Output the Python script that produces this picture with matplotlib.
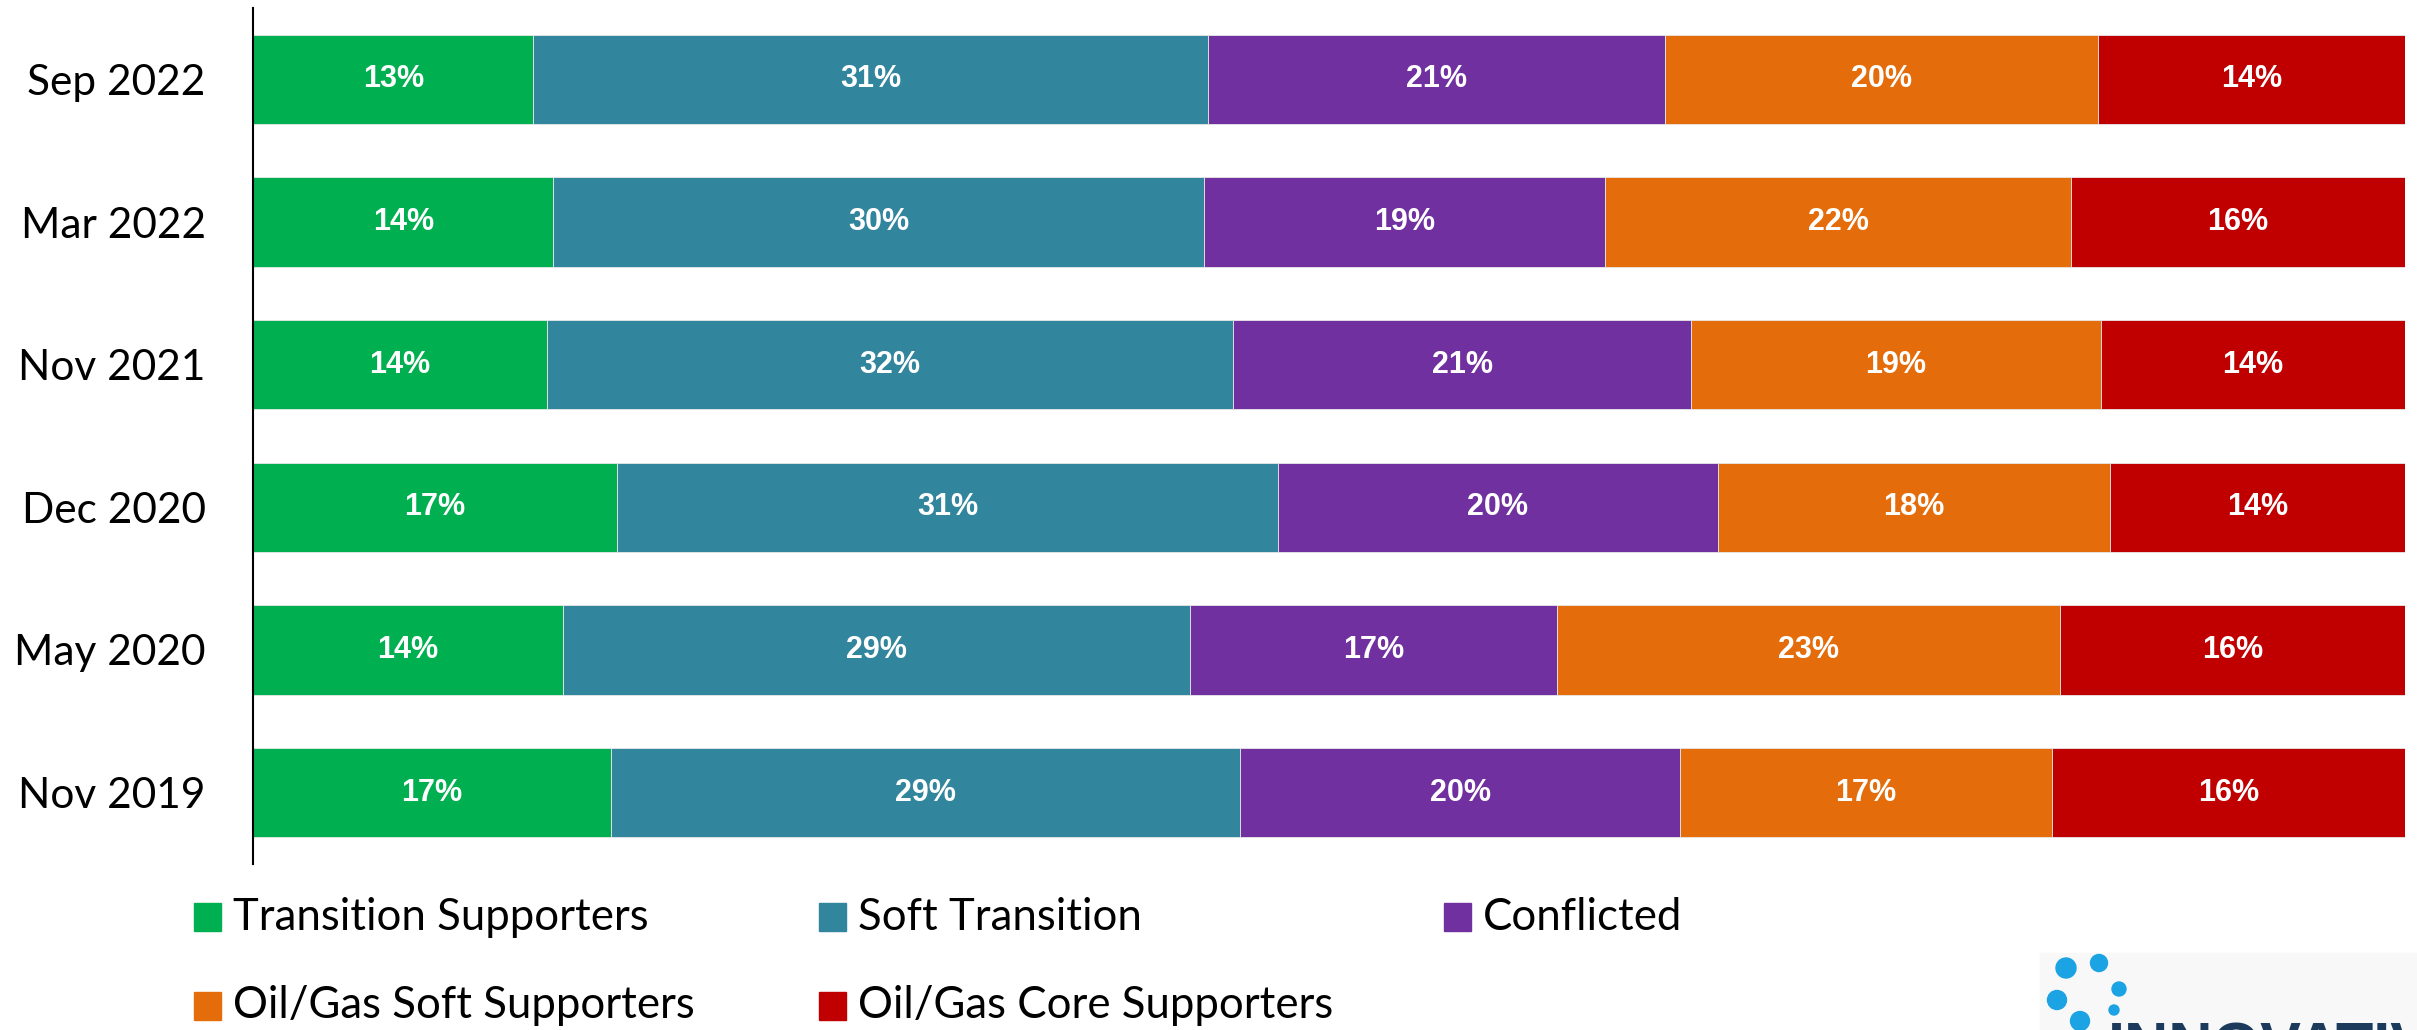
import numpy as np
import matplotlib.pyplot as plt
from matplotlib.patches import Rectangle, Ellipse

plt.rcParams['font.family'] = ['Lato', 'DejaVu Sans']

periods = ["Sep 2022", "Mar 2022", "Nov 2021", "Dec 2020", "May 2020", "Nov 2019"]
series = ["Transition Supporters", "Soft Transition", "Conflicted",
          "Oil/Gas Soft Supporters", "Oil/Gas Core Supporters"]
colors = ["#00B050", "#31859C", "#7030A0", "#E46C0A", "#C00000"]

# shares per period (percent)
transition = [13.03, 13.96, 13.67, 16.93, 14.42, 16.62]
soft_transition = [31.37, 30.23, 31.88, 30.70, 29.14, 29.26]
conflicted = [21.20, 18.64, 21.27, 20.44, 17.04, 20.43]
og_soft = [20.13, 21.64, 19.06, 18.23, 23.38, 17.29]
og_core = [14.27, 15.53, 14.12, 13.69, 16.02, 16.40]

data = np.array([transition, soft_transition, conflicted, og_soft, og_core])

W, H = 2417, 1030
fig = plt.figure(figsize=(W / 100, H / 100), dpi=100)
ax = fig.add_axes([253 / W, 1 - 864 / H, (2405 - 253) / W, (864 - 8) / H])

y = np.arange(len(periods))
left = np.zeros(len(periods))
for vals, name, col in zip(data, series, colors):
    ax.barh(y, vals, left=left, height=0.625, color=col, edgecolor="#e8e8e8",
            linewidth=0.6, label=name)
    for yi, (l, v) in enumerate(zip(left, vals)):
        ax.text(l + v / 2, yi, f"{v:.0f}%", ha="center", va="center",
                color="white", fontsize=22, fontweight="bold",
                family=["Liberation Sans", "DejaVu Sans"])
    left += vals

ax.set_xlim(0, 100)
ax.set_ylim(len(periods) - 0.5, -0.5)
ax.set_yticks(y)
ax.set_yticklabels(periods, fontsize=30.5)
ax.tick_params(axis="y", length=0, pad=34)
ax.set_xticks([])
for s in ["top", "right", "bottom"]:
    ax.spines[s].set_visible(False)
ax.spines["left"].set_linewidth(1.5)

# legend laid out on a fixed grid like the original
col_x = [194, 819, 1444]
row_y = [917, 1006]
for i, (name, col) in enumerate(zip(series, colors)):
    r, c = divmod(i, 3)
    x0, yc = col_x[c], row_y[r]
    fig.patches.append(Rectangle((x0 / W, 1 - (yc + 14) / H), 27 / W, 28 / H,
                                 transform=fig.transFigure, color=col))
    fig.text((x0 + 39) / W, 1 - yc / H, name, fontsize=31.5, va="center", ha="left")

# logo fragment in the corner
fig.patches.append(Rectangle((2040 / W, 0), (W - 2040) / W, (H - 953) / H,
                             transform=fig.transFigure, color="#f8f8f8", zorder=0))
dots = [(2066, 968, 10), (2099, 963, 8.5), (2119, 989, 7), (2057, 1000, 9.5),
        (2114, 1010, 5), (2080, 1021, 9.5)]
for cx, cy, rr in dots:
    fig.patches.append(Ellipse((cx / W, 1 - cy / H), 2 * rr / W, 2 * rr / H,
                               transform=fig.transFigure, color="#1BA3E3"))
fig.text(2108 / W, 1 - 1021 / H, "INNOVATIVE", fontsize=44, fontweight="bold",
         color="#1B3A5C", va="top", ha="left", family=["Liberation Sans", "DejaVu Sans"])

fig.savefig("out.png", dpi=100)
